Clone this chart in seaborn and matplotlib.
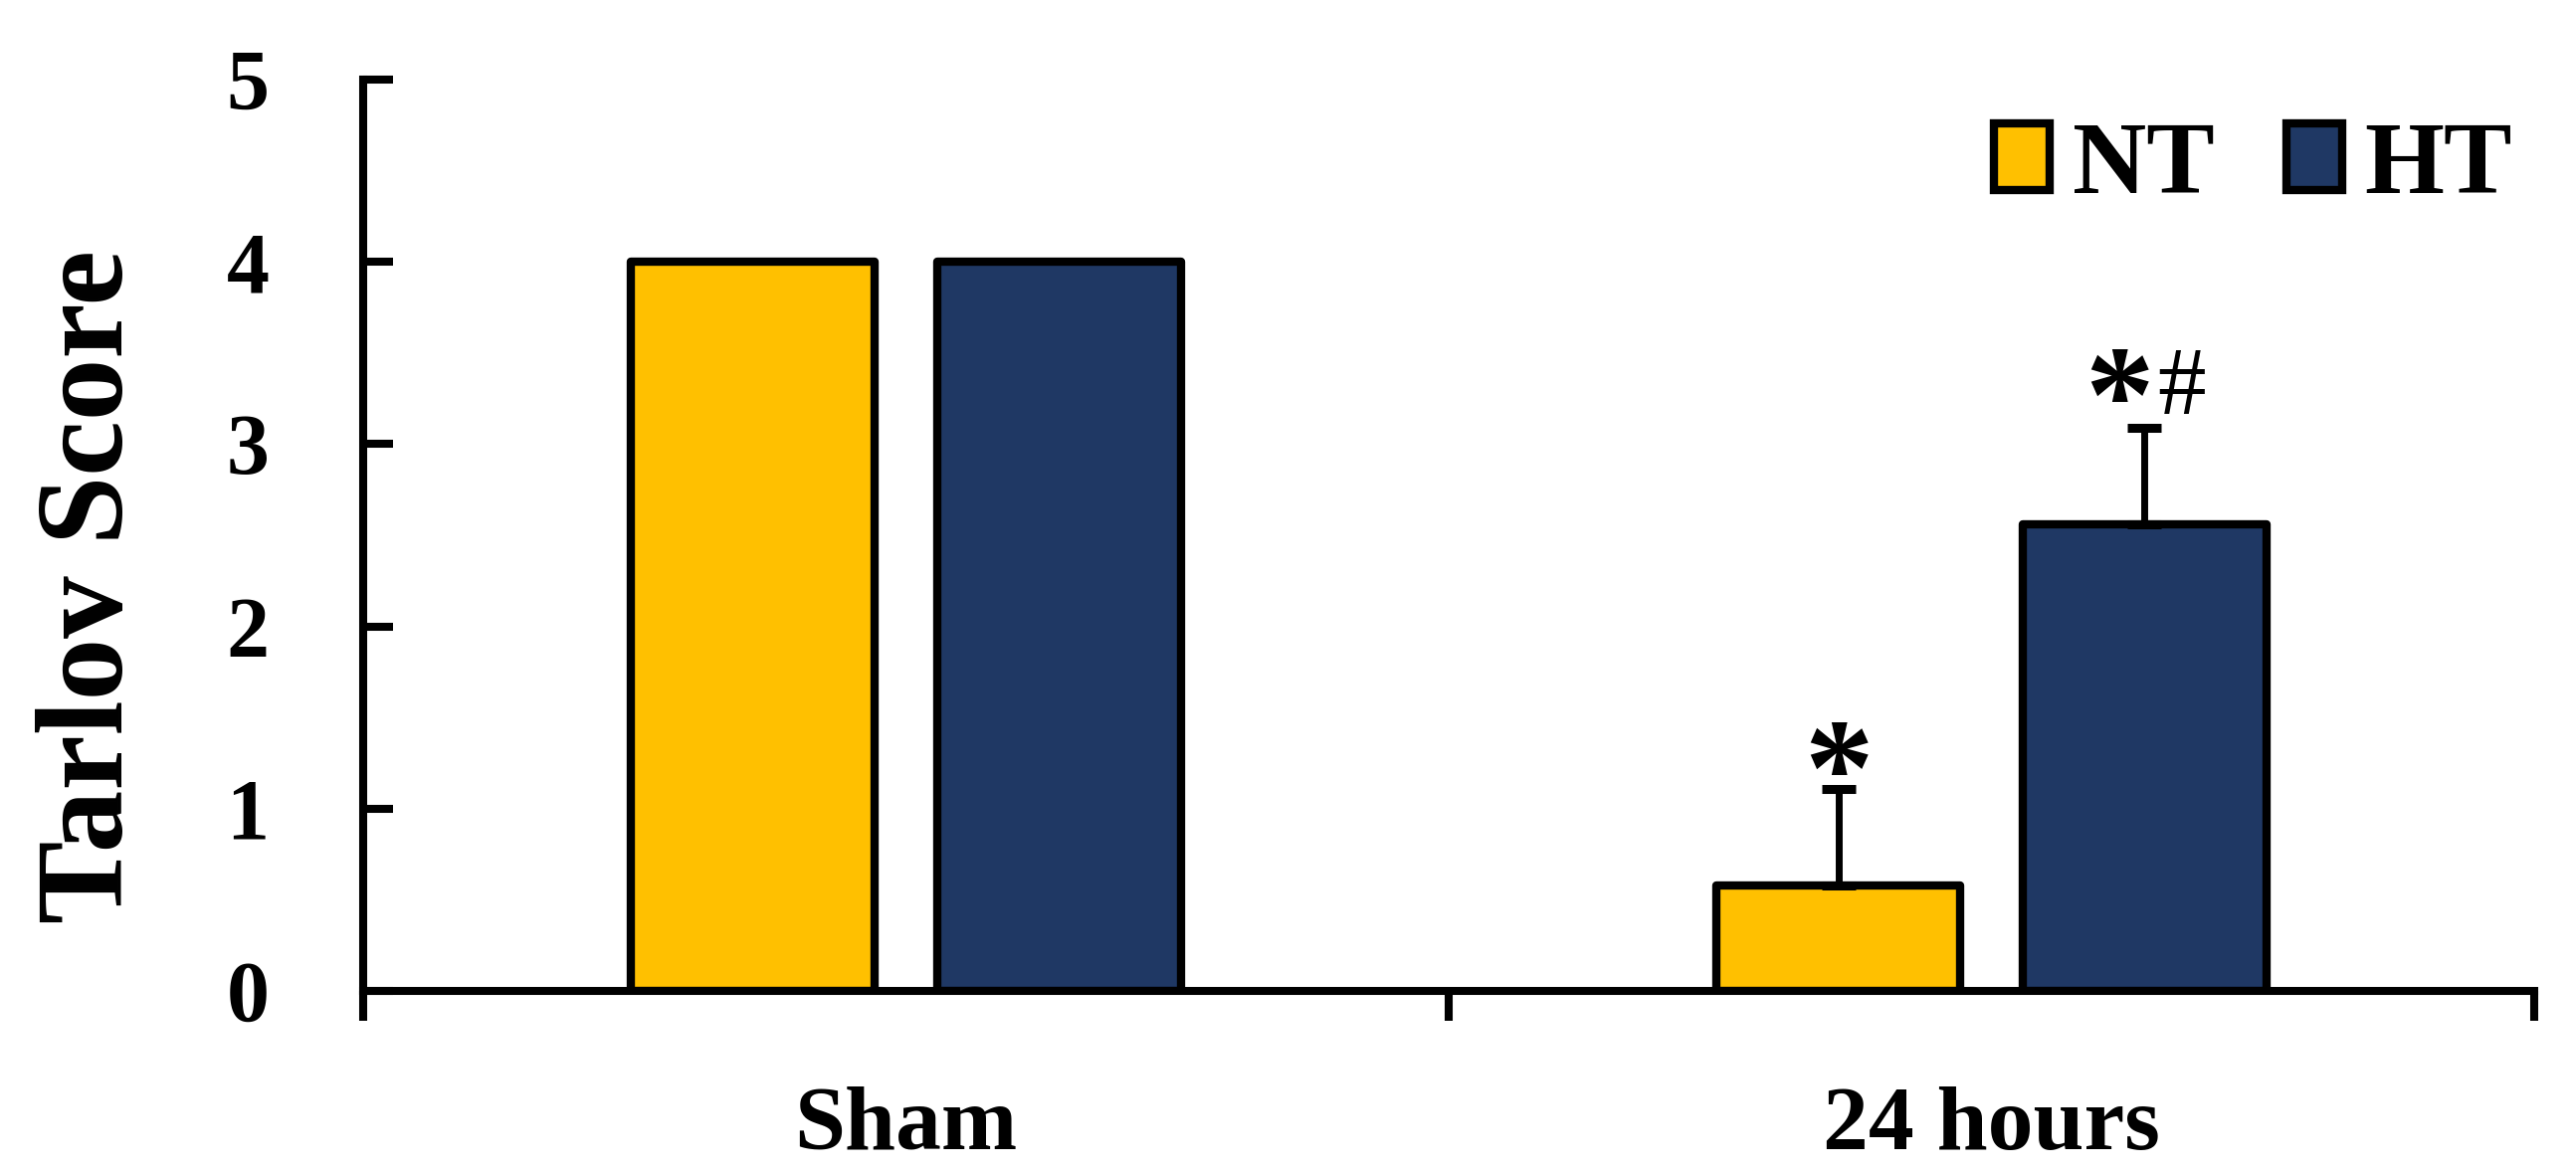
import matplotlib
matplotlib.use("Agg")
import matplotlib.pyplot as plt
import seaborn as sns
import pandas as pd
from matplotlib.patches import Patch

# ---- data ----
categories = ["Sham", "24 hours"]
groups = ["NT", "HT"]
nt_values = [4.0, 0.58]
ht_values = [4.0, 2.56]
nt_errors = [0.0, 0.53]
ht_errors = [0.0, 0.53]
nt_marks = ["", "*"]
ht_marks = ["", "*#"]
y_ticks = [0, 1, 2, 3, 4, 5]
y_label = "Tarlov Score"

colors = {"NT": "#FFC000", "HT": "#1F3864"}

df = pd.DataFrame({
    "category": categories * 2,
    "group": ["NT"] * len(categories) + ["HT"] * len(categories),
    "value": nt_values + ht_values,
    "err": nt_errors + ht_errors,
    "mark": nt_marks + ht_marks,
})

sns.set_theme(style="white")
plt.rcParams["font.family"] = ["Liberation Serif", "DejaVu Serif"]
plt.rcParams["text.color"] = "black"
plt.rcParams["axes.labelcolor"] = "black"
plt.rcParams["xtick.color"] = "black"
plt.rcParams["ytick.color"] = "black"

fig = plt.figure(figsize=(25.89, 11.81), dpi=100)
ax = fig.add_axes([365 / 2589, 1 - 996 / 1181, (2547 - 365) / 2589, (996 - 80) / 1181])

sns.barplot(data=df, x="category", y="value", hue="group", order=categories,
            hue_order=groups, palette=colors, width=0.564, gap=0.204,
            edgecolor="black", linewidth=6, errorbar=None, legend=False, ax=ax,
            saturation=1)

for p in ax.patches:
    p.set_joinstyle("round")

# error bars and significance marks, using seaborn's bar positions
bars = ax.patches
n = len(categories)
for gi, g in enumerate(groups):
    sub = df[df["group"] == g].reset_index(drop=True)
    for ci in range(n):
        bar = bars[gi * n + ci]
        xc = bar.get_x() + bar.get_width() / 2
        val = sub.loc[ci, "value"]
        err = sub.loc[ci, "err"]
        if err > 0:
            ax.errorbar(xc, val, yerr=[[0], [err]], fmt="none", ecolor="black",
                        elinewidth=5, capsize=12, capthick=6.5, zorder=1)
        mark = sub.loc[ci, "mark"]
        top = val + err
        if mark.startswith("*"):
            dx = -18 if len(mark) > 1 else 0
            dy = -10 if len(mark) > 1 else -19
            ax.annotate("*", (xc, top), xytext=(dx, dy), textcoords="offset points",
                        ha="center", va="baseline", fontsize=100, fontweight="bold",
                        color="black")
        if "#" in mark:
            ax.annotate("#", (xc, top), xytext=(27, 10), textcoords="offset points",
                        ha="center", va="baseline", fontsize=70, color="black")

# axes styling
ax.set_xlim(-0.5, n - 0.5)
ax.set_ylim(0, 5)
ax.set_yticks(y_ticks)
ax.set_yticklabels([str(t) for t in y_ticks], fontsize=62, fontweight="bold")
ax.set_xticks(range(n))
ax.set_xticklabels(categories, fontsize=66, fontweight="bold")
ax.set_xticks([i - 0.5 for i in range(n + 1)], minor=True)
ax.tick_params(axis="x", which="major", length=0, pad=69, colors="black")
ax.tick_params(axis="x", which="minor", length=21.6, width=5.8, direction="out",
               bottom=True, color="black")
ax.tick_params(axis="y", which="major", length=21.6, width=5.8, direction="in",
               pad=68, left=True, color="black")
for s in ["top", "right"]:
    ax.spines[s].set_visible(False)
for s in ["left", "bottom"]:
    ax.spines[s].set_visible(True)
    ax.spines[s].set_color("black")
    ax.spines[s].set_linewidth(5.8)
ax.set_xlabel("")
ax.set_ylabel(y_label, fontsize=90, fontweight="bold", color="black")
ax.yaxis.set_label_coords((150 - 365) / 2182, (996 - 590) / 916)

handles = [Patch(facecolor=colors[g], edgecolor="black", linewidth=6, label=g) for g in groups]
leg = ax.legend(handles=handles, loc="center right", bbox_to_anchor=(0.99, 0.903),
                ncol=2, frameon=False, borderpad=0, borderaxespad=0,
                handlelength=0.55, handleheight=0.62, handletextpad=0.22,
                columnspacing=0.7, prop={"size": 74, "weight": "bold"})
for t in leg.get_texts():
    t.set_color("black")

fig.savefig("out.png", dpi=100, facecolor="white")
